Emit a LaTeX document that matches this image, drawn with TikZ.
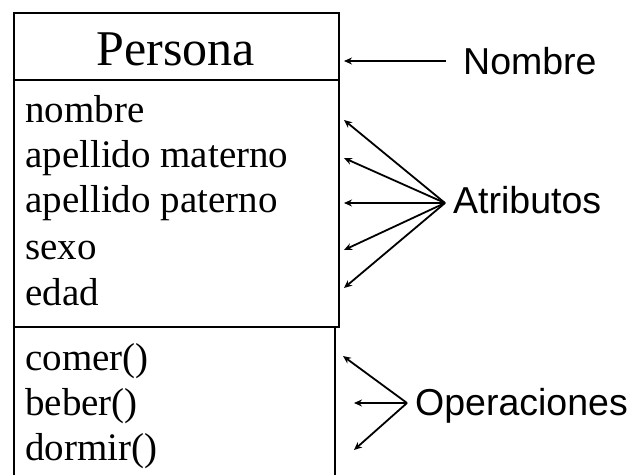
\documentclass[tikz,border=0pt]{standalone}
\usepackage{fontspec}
\setmainfont{Liberation Serif}
\newfontfamily\labelfont{Liberation Sans}
\usetikzlibrary{arrows.meta}

\tikzset{
    member/.style={anchor=base west, inner sep=0pt, font=\fontsize{39}{45}\selectfont},
    tag/.style={anchor=base west, inner sep=0pt, font=\labelfont\fontsize{37.5}{45}\selectfont},
    pointer/.style={-{Stealth[length=8pt,width=7pt]}, line width=1.8pt}
}

\begin{document}
\begin{tikzpicture}[x=1pt, y=-1pt]
            \useasboundingbox (0,0) rectangle (632,475);
            % class box
            \draw[line width=1.6pt] (14,13) rectangle (339,327);
            \draw[line width=1.6pt] (14,80) -- (339,80);
            \draw[line width=1.6pt] (14,475) -- (14,327) -- (335,327) -- (335,475);
            \node[anchor=base, inner sep=0pt, font=\fontsize{50}{60}\selectfont] (persona) at (176,65) {Persona};
            % attributes
            \node[member] (nombre) at (25,122) {nombre};
            \node[member] (materno) at (25,167) {apellido materno};
            \node[member] (paterno) at (25,212) {apellido paterno};
            \node[member] (sexo) at (25,259) {sexo};
            \node[member] (edad) at (25,305) {edad};
            % operations
            \node[member] (comer) at (25,370) {comer()};
            \node[member] (beber) at (25,415) {beber()};
            \node[member] (dormir) at (25,460) {dormir()};
            % labels
            \node[tag] (lblnombre) at (463,74) {Nombre};
            \node[tag] (lblatrib) at (453,213) {Atributos};
            \node[tag] (lblop) at (415,415) {Operaciones};
            \coordinate (nombrehub) at (446,61);
            \coordinate (atribhub) at (445,203);
            \coordinate (ophub) at (407,403);
            \coordinate (tipname) at (344,61);
            \coordinate (tipa) at (344,120);
            \coordinate (tipb) at (344,158);
            \coordinate (tipc) at (344,203);
            \coordinate (tipd) at (344,250);
            \coordinate (tipe) at (344,288);
            \coordinate (tipf) at (343,356);
            \coordinate (tipg) at (354,403);
            \coordinate (tiph) at (354,450);
            % arrows
            \draw[pointer] (nombrehub) -- (tipname);
            \foreach \t in {tipa,tipb,tipc,tipd,tipe}
                \draw[pointer] (atribhub) -- (\t);
            \foreach \t in {tipf,tipg,tiph}
                \draw[pointer] (ophub) -- (\t);
        \end{tikzpicture}
\end{document}
